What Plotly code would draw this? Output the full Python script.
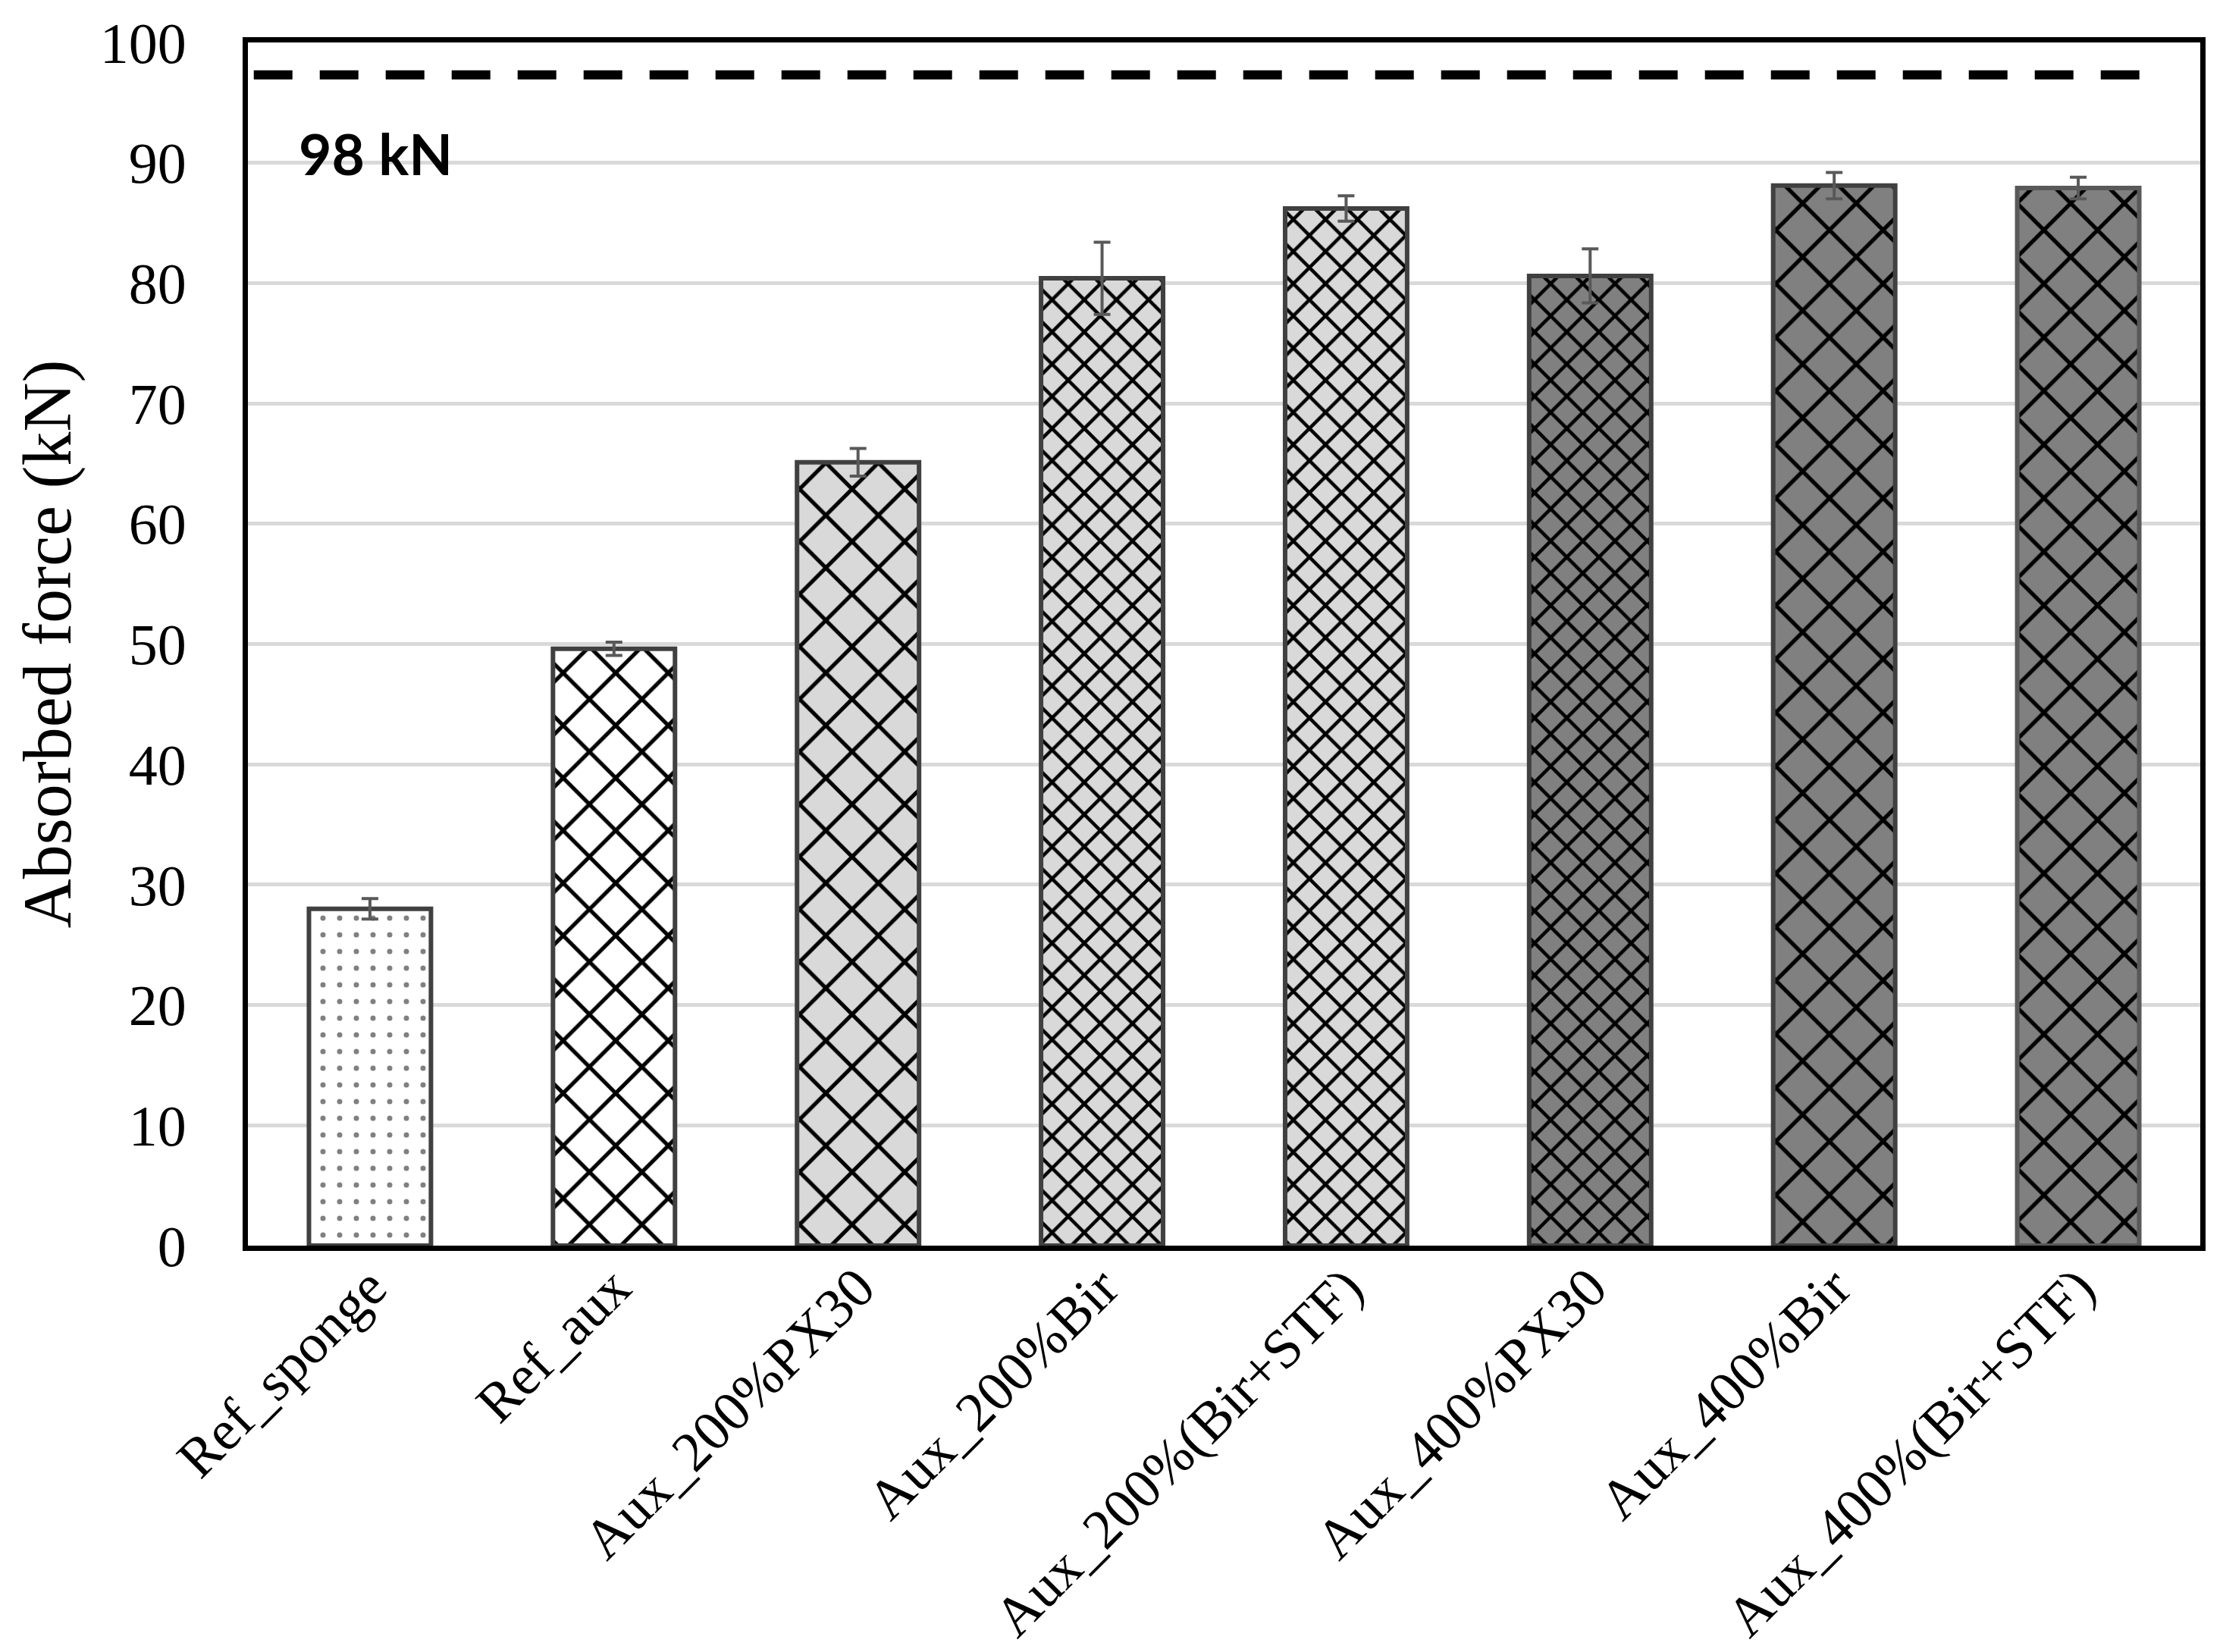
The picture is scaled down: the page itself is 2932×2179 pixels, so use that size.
import plotly.graph_objects as go

# ---- data ----
categories = ["Ref_sponge", "Ref_aux", "Aux_200%PX30", "Aux_200%Bir",
              "Aux_200%(Bir+STF)", "Aux_400%PX30", "Aux_400%Bir", "Aux_400%(Bir+STF)"]
absorbed_force = [28.0, 49.6, 65.1, 80.4, 86.2, 80.6, 88.1, 87.9]
force_error = [0.85, 0.55, 1.15, 3.0, 1.05, 2.25, 1.1, 0.9]
y_tick_values = [0, 10, 20, 30, 40, 50, 60, 70, 80, 90, 100]
limit_value = 97.3
limit_label = "98 kN"

# ---- styles ----
fill_colors = ["#ffffff", "#ffffff", "#d9d9d9", "#d9d9d9", "#d9d9d9", "#808080", "#808080", "#808080"]
pattern_shapes = [".", "x", "x", "x", "x", "x", "x", "x"]
pattern_fg = ["#808080"] + ["#000000"] * 7
pattern_sizes = [22, 49, 49, 30, 30, 30, 50, 50]
pattern_solidity = [0.08, 0.2, 0.2, 0.28, 0.28, 0.28, 0.2, 0.2]
outline_colors = ["#404040"] * 7 + ["#595959"]

SERIF = "Liberation Serif, Times New Roman, serif"

fig = go.Figure()
for i, cat in enumerate(categories):
    fig.add_trace(go.Bar(
        x=[cat],
        y=[absorbed_force[i]],
        marker=dict(
            color=fill_colors[i],
            line=dict(color=outline_colors[i], width=6),
            pattern=dict(shape=pattern_shapes[i], fgcolor=pattern_fg[i],
                         bgcolor=fill_colors[i], size=pattern_sizes[i],
                         solidity=pattern_solidity[i], fillmode="replace"),
        ),
        error_y=dict(type="data", array=[force_error[i]], visible=True,
                     color="#595959", thickness=4, width=11),
        showlegend=False,
        hoverinfo="skip",
    ))

fig.add_shape(type="line", xref="paper", yref="y",
              x0=0.003, x1=0.974, y0=limit_value, y1=limit_value,
              line=dict(color="black", width=12, dash="51px,36px"))

fig.add_annotation(xref="paper", yref="y", x=0.0656, y=90.8,
                   xanchor="center", yanchor="middle",
                   text="<b>" + limit_label + "</b>", showarrow=False,
                   font=dict(family="Lato, Open Sans, sans-serif", size=75, color="black"))

fig.update_layout(
    width=2932, height=2179,
    margin=dict(l=319, r=38, t=48, b=544, autoexpand=False),
    paper_bgcolor="white", plot_bgcolor="white",
    barmode="overlay",
    bargap=0.5,
    font=dict(family=SERIF, color="black"),
)

fig.update_xaxes(
    type="category",
    categoryorder="array", categoryarray=categories,
    tickangle=-45,
    tickfont=dict(family=SERIF, size=74, color="black"),
    showline=True, linecolor="black", linewidth=7, mirror=True,
    showgrid=False, ticks="", ticklabelstandoff=-25,
)

fig.update_yaxes(
    range=[0, 100],
    tickvals=y_tick_values,
    tickfont=dict(family=SERIF, size=76, color="black"),
    showline=True, linecolor="black", linewidth=7, mirror=True,
    showgrid=True, gridcolor="#d9d9d9", gridwidth=5,
    zeroline=False, ticks="", ticklabelstandoff=59,
    title=dict(text="Absorbed force (kN)", font=dict(family=SERIF, size=90, color="black"),
               standoff=11),
)

fig.write_html("out.html")
